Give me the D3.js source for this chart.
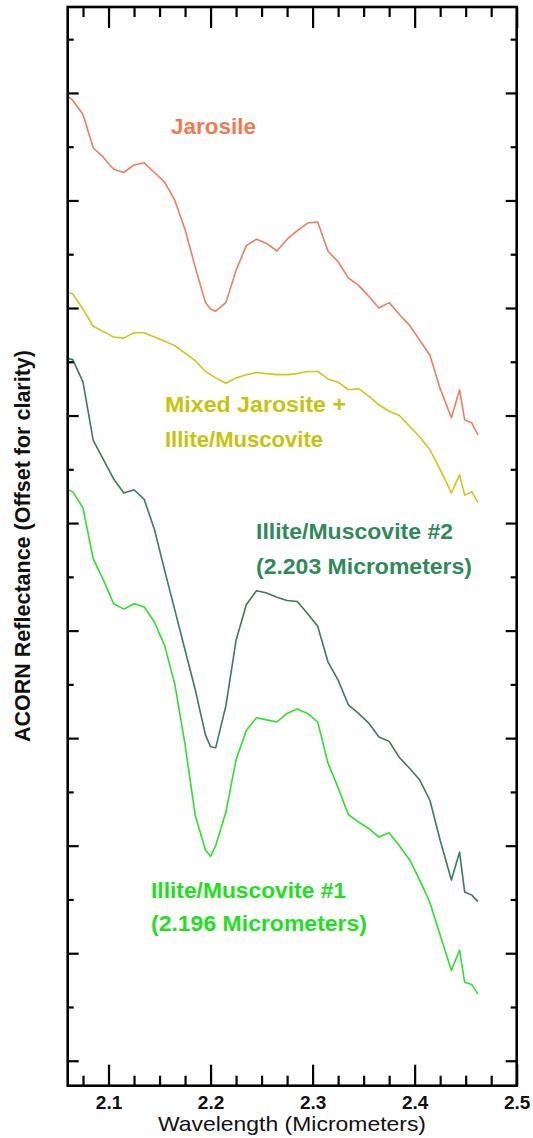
<!DOCTYPE html>
<html><head><meta charset="utf-8">
<script src="https://cdn.jsdelivr.net/npm/d3@7"></script>
<style>body{margin:0;background:#fff;} svg{display:block;}</style>
</head><body>
<svg id="chart" width="533" height="1138"></svg>
<script>
// ---- data ----
const wavelengths = [2.060,2.065,2.075,2.085,2.095,2.105,2.115,2.125,2.135,2.145,2.155,2.165,2.175,2.185,2.195,2.200,2.205,2.215,2.225,2.235,2.245,2.255,2.265,2.275,2.285,2.295,2.305,2.315,2.325,2.335,2.345,2.355,2.365,2.375,2.385,2.395,2.405,2.415,2.425,2.436,2.444,2.449,2.456,2.462];
const jarosite = [0.897,0.893,0.880,0.849,0.840,0.829,0.826,0.833,0.835,0.826,0.817,0.800,0.773,0.738,0.705,0.699,0.697,0.705,0.735,0.758,0.764,0.760,0.753,0.764,0.772,0.779,0.780,0.753,0.743,0.728,0.721,0.711,0.700,0.705,0.694,0.684,0.670,0.656,0.625,0.598,0.624,0.596,0.593,0.582];
const mixed = [0.715,0.713,0.699,0.683,0.678,0.673,0.672,0.677,0.677,0.673,0.669,0.665,0.658,0.651,0.641,0.638,0.635,0.630,0.635,0.638,0.640,0.639,0.638,0.638,0.639,0.641,0.641,0.634,0.631,0.624,0.625,0.618,0.610,0.604,0.600,0.590,0.580,0.568,0.550,0.528,0.545,0.526,0.529,0.519];
const illite2 = [0.653,0.652,0.631,0.577,0.559,0.541,0.528,0.531,0.522,0.494,0.456,0.419,0.382,0.345,0.303,0.292,0.291,0.330,0.391,0.424,0.437,0.435,0.431,0.428,0.427,0.416,0.404,0.371,0.354,0.331,0.323,0.314,0.301,0.297,0.282,0.272,0.261,0.242,0.205,0.168,0.194,0.157,0.154,0.148];
const illite1 = [0.531,0.529,0.514,0.467,0.447,0.425,0.420,0.425,0.422,0.408,0.386,0.350,0.294,0.228,0.196,0.190,0.200,0.231,0.280,0.307,0.319,0.317,0.315,0.323,0.327,0.323,0.315,0.277,0.254,0.229,0.222,0.216,0.208,0.212,0.200,0.187,0.168,0.147,0.117,0.084,0.103,0.073,0.071,0.062];
const xMajorTicks = [2.1,2.2,2.3,2.4,2.5];
const xTickLabels = ["2.1","2.2","2.3","2.4","2.5"];
const xMinorTicks = [2.075,2.125,2.15,2.175,2.225,2.25,2.275,2.325,2.35,2.375,2.425,2.45,2.475];
const yMajorTicks = [0,0.1,0.2,0.3,0.4,0.5,0.6,0.7,0.8,0.9];
const yMinorTicks = [0.05,0.15,0.25,0.35,0.45,0.55,0.65,0.75,0.85,0.95];
const seriesNames = ["Jarosite","Mixed","Illite2","Illite1"];
const seriesValues = [jarosite, mixed, illite2, illite1];
const labelLines = [["Jarosile"],["Mixed Jarosite +","Illite/Muscovite"],["Illite/Muscovite #2","(2.203 Micrometers)"],["Illite/Muscovite #1","(2.196 Micrometers)"]];
const xTitle = "Wavelength (Micrometers)";
const yTitle = "ACORN Reflectance (Offset for clarity)";

// ---- styles / layout ----
const lineColors = ["#ee7f5c","#c9c918","#3b7a5a","#2ee02e"];
const textColors = ["#f07a52","#c4c40c","#2f8a5a","#1fe01f"];
// label layout: [x, baseline y of first line, line gap, widths per line]
const labelLayout = [
  {x:171, y:134, gap:0, w:[85]},
  {x:165, y:411.5, gap:35, w:[181,158]},
  {x:256, y:539, gap:34.5, w:[197,216]},
  {x:151, y:898, gap:32.5, w:[195,216]}
];

const W = 533, H = 1138;
const L = 67.7, R = 516.7, T = 7, B = 1085.7;
const x = d3.scaleLinear().domain([2.06, 2.5]).range([L, R]);
const y = d3.scaleLinear().domain([-0.0232, 0.9799]).range([B, T]);

const svg = d3.select("#chart");
svg.append("rect").attr("width",W).attr("height",H).attr("fill","#fff");
const font = "'Liberation Sans', Arial, Helvetica, sans-serif";

// curves
const line = d3.line().x((d,i)=>x(wavelengths[i])).y(d=>y(d));
seriesValues.forEach((vals,k)=>{
  svg.append("path").datum(vals)
    .attr("d", line).attr("fill","none")
    .attr("stroke", lineColors[k]).attr("stroke-width",1.6)
    .attr("stroke-linejoin","round");
});

// axes (inward ticks)
function styleAxis(g){
  g.select(".domain").remove();
  g.selectAll(".tick line").attr("stroke","#000").attr("stroke-width",2.2);
}
svg.append("g").attr("transform",`translate(0,${B})`)
  .call(d3.axisBottom(x).tickValues(xMajorTicks).tickSize(-21).tickPadding(10)
        .tickFormat((d,i)=>xTickLabels[i]))
  .call(styleAxis)
  .call(g=>g.selectAll("text").attr("font-family",font).attr("font-size",19)
        .attr("font-weight","bold").attr("fill","#111"));
svg.append("g").attr("transform",`translate(0,${B})`)
  .call(d3.axisBottom(x).tickValues(xMinorTicks).tickSize(-10).tickFormat(""))
  .call(styleAxis);
svg.append("g").attr("transform",`translate(0,${T})`)
  .call(d3.axisTop(x).tickValues(xMajorTicks).tickSize(-21).tickFormat(""))
  .call(styleAxis);
svg.append("g").attr("transform",`translate(0,${T})`)
  .call(d3.axisTop(x).tickValues(xMinorTicks).tickSize(-10).tickFormat(""))
  .call(styleAxis);
svg.append("g").attr("transform",`translate(${L},0)`)
  .call(d3.axisLeft(y).tickValues(yMajorTicks).tickSize(-11).tickFormat(""))
  .call(styleAxis);
svg.append("g").attr("transform",`translate(${L},0)`)
  .call(d3.axisLeft(y).tickValues(yMinorTicks).tickSize(-6).tickFormat(""))
  .call(styleAxis);
svg.append("g").attr("transform",`translate(${R},0)`)
  .call(d3.axisRight(y).tickValues(yMajorTicks).tickSize(-11).tickFormat(""))
  .call(styleAxis);
svg.append("g").attr("transform",`translate(${R},0)`)
  .call(d3.axisRight(y).tickValues(yMinorTicks).tickSize(-6).tickFormat(""))
  .call(styleAxis);

// frame
svg.append("rect").attr("x",L).attr("y",T).attr("width",R-L).attr("height",B-T)
  .attr("fill","none").attr("stroke","#000").attr("stroke-width",2.6);

// series labels
labelLines.forEach((lines,k)=>{
  const lay = labelLayout[k];
  lines.forEach((t,j)=>{
    svg.append("text").attr("x",lay.x).attr("y",lay.y + j*lay.gap)
      .attr("font-family",font).attr("font-size",22).attr("font-weight","bold")
      .attr("fill",textColors[k])
      .attr("textLength",lay.w[j]).attr("lengthAdjust","spacingAndGlyphs")
      .text(t);
  });
});

// axis titles
svg.append("text").attr("x",(158+426)/2).attr("y",1131)
  .attr("text-anchor","middle").attr("font-family",font).attr("font-size",21)
  .attr("fill","#111").attr("textLength",268).attr("lengthAdjust","spacingAndGlyphs")
  .text(xTitle);
svg.append("text").attr("transform","translate(30,546) rotate(-90)")
  .attr("text-anchor","middle").attr("font-family",font).attr("font-size",22)
  .attr("font-weight","bold").attr("fill","#111")
  .attr("textLength",392).attr("lengthAdjust","spacingAndGlyphs")
  .text(yTitle);
</script>
</body></html>
